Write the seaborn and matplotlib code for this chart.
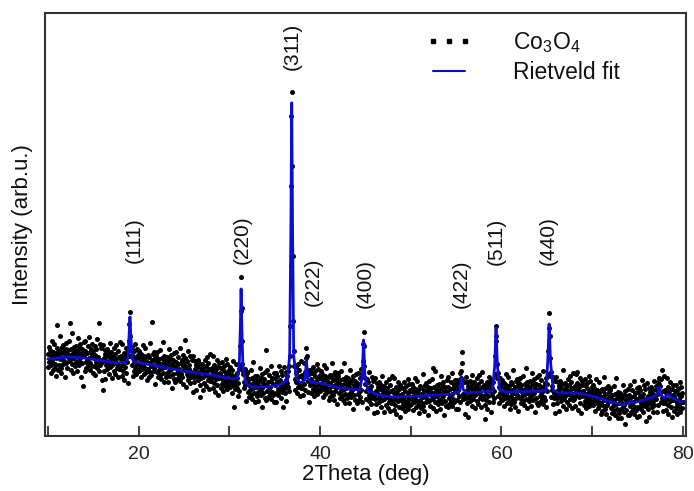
import numpy as np
import pandas as pd
import seaborn as sns
import matplotlib.pyplot as plt
from matplotlib.lines import Line2D

# measured pattern: 2theta scan from 10 to 80 deg, step 0.05 deg (one line per degree)
scan_start = 10.0
scan_step = 0.05
co3o4_counts = [
    82, 69, 89, 74, 77, 86, 63, 81, 71, 95, 75, 84, 66, 80, 92, 72, 68, 83, 78, 60,
    111, 88, 66, 80, 86, 71, 100, 77, 68, 83, 63, 89, 78, 72, 91, 75, 85, 59, 82, 87,
    93, 73, 82, 68, 86, 79, 75, 95, 113, 81, 66, 87, 77, 103, 72, 83, 63, 89, 78, 85,
    70, 82, 90, 74, 65, 85, 80, 98, 76, 71, 88, 78, 92, 59, 83, 73, 87, 81, 50, 94,
    80, 65, 85, 95, 74, 68, 83, 76, 90, 71, 78, 99, 66, 84, 73, 87, 70, 81, 92, 63,
    85, 78, 70, 90, 61, 81, 87, 74, 68, 97, 72, 79, 113, 65, 92, 76, 71, 88, 73, 56,
    74, 91, 46, 65, 78, 86, 57, 82, 75, 71, 87, 67, 80, 73, 84, 62, 93, 69, 76, 79,
    84, 71, 58, 80, 76, 65, 88, 73, 82, 62, 77, 91, 68, 72, 85, 59, 79, 67, 94, 70,
    67, 80, 77, 60, 92, 71, 65, 83, 56, 76, 79, 69, 88, 63, 74, 81, 53, 85, 80, 95,
    112, 124, 100, 86, 80, 89, 71, 60, 80, 85, 65, 75, 69, 92, 62, 78, 87, 72, 66, 81,
    78, 65, 85, 70, 73, 82, 59, 77, 67, 91, 71, 80, 62, 76, 88, 68, 64, 79, 74, 56,
    67, 81, 59, 73, 79, 64, 93, 70, 61, 76, 114, 82, 71, 65, 84, 68, 78, 52, 75, 80,
    84, 64, 73, 59, 77, 70, 66, 86, 61, 72, 57, 78, 68, 94, 63, 74, 54, 80, 69, 76,
    59, 71, 79, 63, 54, 74, 69, 87, 65, 60, 77, 67, 81, 48, 72, 62, 76, 70, 57, 83,
    69, 54, 74, 84, 63, 57, 72, 65, 79, 60, 67, 88, 55, 73, 62, 76, 59, 70, 81, 52,
    73, 66, 96, 78, 49, 69, 75, 62, 56, 85, 60, 67, 71, 53, 80, 64, 59, 76, 61, 44,
    63, 80, 59, 54, 67, 75, 46, 71, 64, 60, 76, 56, 69, 62, 73, 51, 39, 58, 65, 68,
    72, 59, 46, 68, 64, 53, 76, 61, 70, 50, 65, 79, 56, 60, 73, 47, 67, 55, 82, 58,
    55, 68, 65, 48, 80, 59, 53, 71, 44, 64, 67, 57, 76, 51, 62, 69, 41, 73, 58, 63,
    62, 48, 68, 59, 52, 74, 56, 45, 65, 70, 50, 60, 54, 77, 47, 63, 72, 57, 51, 66,
    62, 49, 69, 54, 57, 66, 43, 61, 51, 75, 55, 29, 47, 60, 72, 52, 48, 63, 58, 40,
    53, 67, 45, 70, 90, 125, 159, 128, 95, 72, 62, 65, 54, 48, 67, 51, 61, 35, 58, 63,
    64, 44, 53, 39, 57, 50, 46, 66, 41, 52, 37, 58, 48, 74, 43, 54, 34, 60, 49, 56,
    40, 52, 60, 44, 35, 55, 50, 68, 46, 41, 58, 48, 62, 29, 53, 43, 57, 51, 38, 64,
    51, 36, 86, 66, 45, 39, 54, 47, 61, 42, 49, 70, 37, 55, 44, 58, 41, 52, 63, 34,
    58, 51, 43, 63, 34, 54, 60, 47, 41, 70, 45, 52, 56, 38, 65, 49, 44, 61, 46, 29,
    52, 69, 48, 43, 56, 64, 35, 60, 53, 49, 65, 45, 70, 80, 110, 170, 250, 320, 344, 270,
    180, 115, 85, 70, 57, 46, 69, 54, 63, 43, 58, 72, 49, 53, 66, 40, 60, 48, 75, 51,
    48, 61, 58, 41, 73, 52, 46, 64, 65, 78, 88, 80, 66, 44, 55, 62, 34, 66, 51, 56,
    57, 43, 63, 54, 47, 69, 51, 40, 60, 65, 45, 55, 49, 72, 42, 58, 67, 52, 46, 61,
    58, 45, 65, 50, 53, 62, 39, 57, 47, 71, 51, 60, 42, 56, 68, 48, 44, 59, 54, 36,
    47, 61, 39, 53, 59, 44, 73, 50, 41, 56, 36, 62, 51, 45, 64, 48, 58, 32, 55, 60,
    63, 43, 52, 38, 56, 49, 45, 65, 40, 51, 36, 57, 47, 73, 42, 53, 33, 59, 48, 55,
    38, 50, 58, 42, 33, 53, 48, 66, 44, 39, 56, 46, 60, 27, 51, 41, 55, 49, 36, 62,
    48, 33, 53, 63, 42, 36, 51, 44, 58, 39, 46, 67, 34, 62, 75, 92, 104, 90, 70, 58,
    52, 45, 37, 57, 28, 48, 54, 41, 35, 64, 39, 46, 50, 32, 59, 43, 38, 55, 40, 23,
    41, 58, 37, 32, 45, 53, 24, 49, 42, 38, 54, 34, 47, 40, 51, 29, 60, 36, 43, 46,
    50, 37, 24, 46, 42, 31, 54, 39, 48, 28, 43, 57, 34, 38, 51, 25, 45, 33, 60, 36,
    33, 46, 43, 26, 58, 37, 31, 49, 22, 42, 45, 35, 54, 29, 40, 47, 19, 51, 36, 41,
    42, 28, 48, 39, 32, 54, 36, 25, 45, 50, 30, 40, 34, 57, 27, 43, 52, 37, 31, 46,
    45, 32, 52, 37, 40, 49, 26, 44, 34, 58, 38, 47, 29, 43, 55, 35, 31, 46, 41, 23,
    36, 50, 28, 42, 48, 33, 62, 39, 30, 45, 25, 51, 40, 34, 53, 37, 47, 21, 44, 49,
    55, 35, 44, 30, 48, 41, 37, 57, 68, 43, 28, 49, 39, 65, 34, 45, 25, 51, 40, 47,
    32, 44, 52, 36, 27, 47, 42, 60, 38, 33, 50, 40, 54, 21, 45, 35, 49, 43, 30, 56,
    44, 29, 49, 59, 38, 32, 47, 40, 54, 35, 42, 63, 30, 48, 37, 51, 34, 45, 56, 27,
    51, 44, 36, 56, 27, 47, 53, 40, 34, 63, 58, 65, 84, 73, 56, 42, 37, 54, 39, 22,
    42, 59, 38, 33, 46, 54, 19, 50, 43, 39, 55, 35, 48, 41, 52, 30, 61, 37, 44, 47,
    54, 41, 28, 50, 46, 35, 58, 43, 52, 32, 47, 61, 38, 42, 55, 29, 49, 37, 64, 40,
    38, 51, 48, 31, 17, 42, 36, 54, 27, 47, 50, 40, 59, 34, 45, 52, 24, 56, 41, 46,
    48, 34, 54, 45, 38, 62, 80, 100, 110, 95, 72, 58, 40, 63, 33, 49, 58, 43, 37, 52,
    49, 36, 56, 41, 44, 53, 30, 48, 38, 62, 42, 51, 33, 47, 59, 39, 35, 50, 45, 27,
    40, 54, 32, 46, 52, 37, 66, 43, 34, 49, 29, 55, 44, 38, 57, 41, 51, 25, 48, 53,
    58, 38, 47, 33, 51, 44, 40, 60, 35, 46, 31, 52, 42, 68, 37, 48, 28, 54, 43, 50,
    35, 47, 55, 39, 30, 50, 45, 63, 41, 36, 53, 43, 57, 24, 48, 38, 52, 46, 33, 59,
    46, 31, 51, 61, 40, 34, 49, 42, 56, 37, 44, 65, 32, 50, 39, 53, 36, 47, 58, 29,
    52, 45, 62, 85, 108, 123, 100, 78, 60, 64, 39, 46, 50, 32, 59, 43, 38, 55, 40, 23,
    42, 59, 38, 33, 46, 54, 25, 50, 43, 39, 55, 35, 48, 41, 52, 30, 66, 37, 44, 47,
    53, 40, 27, 49, 45, 34, 57, 42, 51, 31, 46, 60, 37, 41, 54, 28, 48, 36, 63, 39,
    37, 50, 47, 30, 62, 41, 64, 53, 26, 46, 49, 39, 58, 33, 44, 51, 23, 55, 40, 45,
    45, 31, 51, 42, 35, 57, 39, 28, 48, 53, 33, 43, 37, 60, 30, 46, 55, 40, 34, 49,
    44, 31, 51, 36, 39, 48, 25, 43, 33, 57, 37, 46, 28, 42, 54, 34, 30, 45, 40, 22,
    33, 47, 25, 39, 45, 30, 59, 36, 27, 42, 22, 48, 37, 31, 50, 34, 44, 18, 41, 46,
    48, 28, 37, 23, 41, 34, 30, 50, 25, 36, 21, 42, 32, 58, 27, 38, 18, 44, 33, 40,
    23, 35, 43, 27, 18, 38, 33, 51, 29, 24, 41, 31, 45, 12, 36, 26, 40, 34, 21, 47,
    36, 21, 41, 51, 30, 24, 39, 32, 46, 27, 34, 55, 22, 40, 29, 43, 26, 37, 48, 19,
    44, 37, 29, 49, 20, 40, 46, 33, 27, 56, 31, 38, 42, 24, 51, 35, 30, 47, 32, 15,
    36, 53, 32, 27, 40, 48, 19, 44, 37, 33, 49, 29, 42, 35, 46, 24, 55, 31, 38, 41,
    50, 37, 24, 46, 42, 31, 54, 52, 58, 50, 43, 57, 34, 38, 66, 25, 45, 33, 60, 36,
    33, 46, 43, 26, 58, 37, 31, 49, 22, 42, 45, 35, 54, 29, 40, 47, 19, 51, 36, 41,
    39, 25, 45, 36, 29, 51, 33, 22, 42, 47, 27, 37, 31, 54, 24, 40, 49, 34, 28, 43,
    34,
]

# Rietveld fit curve (vertices)
fit_theta = [10.0, 11.0, 12.4, 14.0, 15.5, 17.6, 18.6, 18.85, 18.95, 19.05, 19.15, 19.3, 19.6,
             22.0, 25.0, 28.0, 30.5, 30.9, 31.1, 31.22, 31.3, 31.38, 31.5, 31.8, 32.5, 34.0,
             35.5, 36.4, 36.65, 36.78, 36.88, 36.98, 37.1, 37.4, 37.9, 38.35, 38.5, 38.65,
             39.0, 40.0, 42.2, 44.4, 44.65, 44.8, 44.95, 45.3, 46.5, 48.0, 51.0, 54.7, 55.4,
             55.6, 55.8, 56.2, 59.0, 59.25, 59.4, 59.55, 59.8, 60.5, 64.9, 65.1, 65.25, 65.4,
             65.7, 66.3, 68.7, 71.0, 73.4, 73.9, 74.2, 74.5, 76.8, 77.25, 77.4, 77.6, 77.9,
             78.4, 78.8, 80.0]
fit_counts = [77, 78, 79, 78, 76, 73, 74, 78, 100, 119, 100, 77, 74,
              70, 65, 61, 57, 58, 70, 110, 147, 110, 70, 53, 49, 49,
              51, 56, 80, 200, 333, 200, 80, 57, 53, 56, 76, 58,
              54, 53, 48, 46, 60, 96, 60, 45, 41, 39, 40, 42, 45,
              58, 46, 43, 45, 70, 108, 70, 46, 44, 45, 75, 112, 75,
              46, 43, 43, 37, 31, 33, 35, 33, 39, 44, 49, 41, 38,
              42, 38, 34]

# reflections
hkl_labels = ["(111)", "(220)", "(311)", "(222)", "(400)", "(422)", "(511)", "(440)"]
hkl_theta = [19.5, 31.4, 36.9, 39.2, 44.95, 55.6, 59.4, 65.2]
hkl_height = [196, 196, 389, 154, 152, 152, 195, 195]

theta = scan_start + scan_step * np.arange(len(co3o4_counts))
scan = pd.DataFrame({"2theta": theta, "counts": co3o4_counts})
fit = pd.DataFrame({"2theta": fit_theta, "counts": fit_counts})

sns.set_style("white")
plt.rcParams["font.family"] = ["Liberation Sans", "DejaVu Sans"]
plt.rcParams["mathtext.fontset"] = "custom"
plt.rcParams["mathtext.rm"] = "Liberation Sans"
plt.rcParams["mathtext.default"] = "regular"
plt.rcParams["text.color"] = "#111111"
plt.rcParams["axes.labelcolor"] = "#111111"
plt.rcParams["xtick.color"] = "#222222"

fit_blue = "#0c0cd2"

fig = plt.figure(figsize=(6.94, 4.91), dpi=100)
ax = fig.add_axes([0.065, 0.112, 0.923, 0.862])

sns.scatterplot(data=scan, x="2theta", y="counts", color="black", s=13, linewidth=0,
                ax=ax, zorder=2, legend=False)
sns.lineplot(data=fit, x="2theta", y="counts", color=fit_blue, linewidth=2.0,
             sort=False, estimator=None, ax=ax, zorder=3, legend=False)

for label, x, y in zip(hkl_labels, hkl_theta, hkl_height):
    ax.text(x, y, label, rotation=90, ha="center", va="center", fontsize=15)

ax.set_xlim(9.7, 80.3)
ax.set_ylim(0, 423)
ax.set_xticks([20, 40, 60, 80])
ax.set_xticks([10, 30, 50, 70], minor=True)
ax.set_yticks([])
ax.tick_params(axis="x", which="both", direction="in", length=7, width=1.3,
               color="#333333", labelsize=14, pad=7, bottom=True)
for sp in ax.spines.values():
    sp.set_color("#333333")
    sp.set_linewidth(1.5)

ax.set_xlabel("2Theta (deg)", fontsize=16, labelpad=1)
ax.set_ylabel("Intensity (arb.u.)", fontsize=16, labelpad=9)

handles = [
    Line2D([], [], color="black", marker="s", markersize=2.8, linestyle="none"),
    Line2D([], [], color=fit_blue, linewidth=1.5),
]
ax.legend(handles, ["Co$_3$O$_4$", "Rietveld fit"], loc="upper left",
          bbox_to_anchor=(0.595, 0.96), frameon=False, fontsize=16.5, numpoints=3,
          handlelength=2.0, handletextpad=1.8, labelspacing=0.3,
          borderpad=0, borderaxespad=0)

fig.savefig("out.png", dpi=100)
